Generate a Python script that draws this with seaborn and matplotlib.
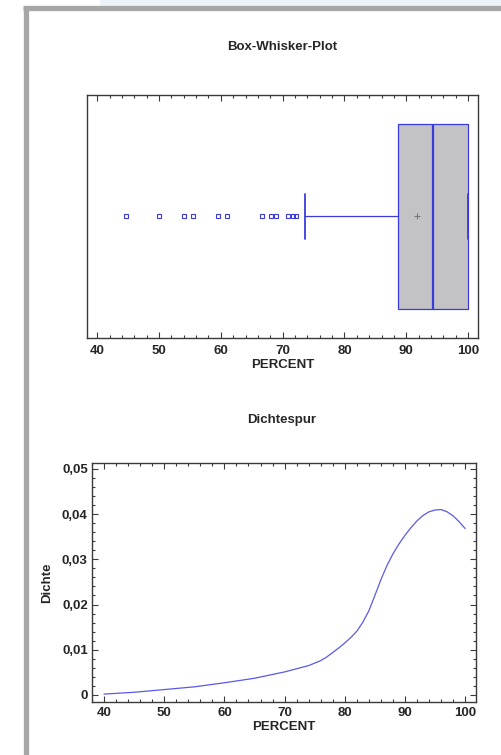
import numpy as np
import pandas as pd
import matplotlib
matplotlib.use("Agg")
import matplotlib.pyplot as plt
import seaborn as sns
from matplotlib.ticker import MultipleLocator, FuncFormatter
from matplotlib.lines import Line2D
from matplotlib.patches import Rectangle

sns.set_style("ticks")
plt.rcParams['font.family'] = ['Liberation Sans', 'DejaVu Sans']
plt.rcParams['font.size'] = 9.5
plt.rcParams['font.weight'] = 'bold'

FS = 9.5

# ---- Box-Whisker values ----
box_q1 = 88.7
box_median = 94.4
box_q3 = 100.0
box_mean = 91.8
whisker_low = 73.6
whisker_high = 100.0
outliers = [44.6, 50.0, 54.0, 55.5, 59.6, 61.0, 66.6, 68.1, 69.0, 70.9, 71.6, 72.1]

# ---- Dichtespur (density trace) ----
dens_x = [40, 45, 50, 55, 60, 65, 70, 74, 76, 77, 78, 79, 80, 81, 82, 83, 84, 85, 86, 87,
          88, 89, 90, 91, 92, 93, 94, 95, 96, 97, 98, 99, 100]
dens_y = [0.0002, 0.0006, 0.0012, 0.0018, 0.0027, 0.0037, 0.0051, 0.0065, 0.0076, 0.0084,
          0.0094, 0.0104, 0.0115, 0.0127, 0.0141, 0.0161, 0.0186, 0.0220, 0.0255, 0.0286,
          0.0312, 0.0334, 0.0353, 0.0370, 0.0385, 0.0397, 0.0405, 0.0409, 0.0410, 0.0405,
          0.0396, 0.0383, 0.0368]

BLUE = '#3b3bdc'
SPINE = '#3a3a3a'

fig = plt.figure(figsize=(5.01, 7.55), dpi=100)
fig.patch.set_facecolor('white')

# window frame
fig.patches.append(Rectangle((0.2, 0.989), 0.8, 0.011, transform=fig.transFigure,
                             facecolor='#eef3f7', edgecolor='none', zorder=0))
fig.add_artist(Line2D([0.0509, 0.0509], [0.0, 0.989], transform=fig.transFigure,
                      color='#a6a6a6', lw=3.8, solid_capstyle='butt'))
fig.add_artist(Line2D([0.046, 1.0], [0.989, 0.989], transform=fig.transFigure,
                      color='#a6a6a6', lw=3.8, solid_capstyle='butt'))

# ================= Box-Whisker-Plot =================
ax1 = fig.add_axes([0.1743, 0.5523, 0.7798, 0.3219])
stats = [dict(q1=box_q1, med=box_median, q3=box_q3, mean=box_mean,
              whislo=whisker_low, whishi=whisker_high, fliers=outliers)]
ax1.bxp(stats, positions=[0], widths=0.761, capwidths=0.185, vert=False,
        patch_artist=True, showmeans=True, showfliers=True,
        boxprops=dict(facecolor='#c3c3c6', edgecolor=BLUE, linewidth=0.9),
        medianprops=dict(color=BLUE, linewidth=1.6),
        whiskerprops=dict(color=BLUE, linewidth=0.9),
        capprops=dict(color=BLUE, linewidth=1.3),
        meanprops=dict(marker='+', markeredgecolor='#777777', markersize=4, markeredgewidth=0.8),
        flierprops=dict(marker='s', markerfacecolor='none', markeredgecolor=BLUE,
                        markersize=3.2, markeredgewidth=0.8))
ax1.set_xlim(38.4, 101.6)
ax1.set_ylim(-0.5, 0.5)
ax1.set_yticks([])
ax1.xaxis.set_major_locator(MultipleLocator(10))
ax1.xaxis.set_minor_locator(MultipleLocator(2))
ax1.tick_params(axis='x', which='both', direction='in', top=True, bottom=True,
                color=SPINE, width=0.8, labelsize=FS, pad=5)
ax1.tick_params(axis='x', which='major', length=4)
ax1.tick_params(axis='x', which='minor', length=2)
ax1.set_xlabel('PERCENT', fontsize=FS, fontweight='bold', labelpad=1.5)
for s in ax1.spines.values():
    s.set_color(SPINE)
    s.set_linewidth(1.0)

# ================= Dichtespur =================
ax2 = fig.add_axes([0.1836, 0.0702, 0.7665, 0.3166])
df = pd.DataFrame({'PERCENT': dens_x, 'Dichte': dens_y})
sns.lineplot(data=df, x='PERCENT', y='Dichte', ax=ax2, color='#5a5ae6', linewidth=0.9)
ax2.set_xlim(38.0, 101.8)
ax2.set_ylim(-0.00155, 0.0513)
ax2.xaxis.set_major_locator(MultipleLocator(10))
ax2.xaxis.set_minor_locator(MultipleLocator(2))
ax2.yaxis.set_major_locator(MultipleLocator(0.01))
ax2.yaxis.set_minor_locator(MultipleLocator(0.002))
ax2.yaxis.set_major_formatter(FuncFormatter(
    lambda v, p: '0' if abs(v) < 1e-9 else f'{v:.2f}'.replace('.', ',')))
ax2.tick_params(axis='both', which='both', direction='in', top=True, bottom=True,
                left=True, right=True, color=SPINE, width=0.8, labelsize=FS)
ax2.tick_params(axis='x', which='both', pad=3.5)
ax2.tick_params(axis='y', which='both', pad=3)
ax2.tick_params(which='major', length=4)
ax2.tick_params(which='minor', length=2)
ax2.set_xlabel('PERCENT', fontsize=FS, fontweight='bold', labelpad=1.5)
ax2.set_ylabel('Dichte', fontsize=FS, fontweight='bold', labelpad=6)
for s in ax2.spines.values():
    s.set_color(SPINE)
    s.set_linewidth(1.0)

# titles
fig.text(0.563, 0.9377, 'Box-Whisker-Plot', ha='center', va='center', fontsize=FS, fontweight='bold')
fig.text(0.563, 0.4437, 'Dichtespur', ha='center', va='center', fontsize=FS, fontweight='bold')

fig.savefig('out.png', dpi=100)
